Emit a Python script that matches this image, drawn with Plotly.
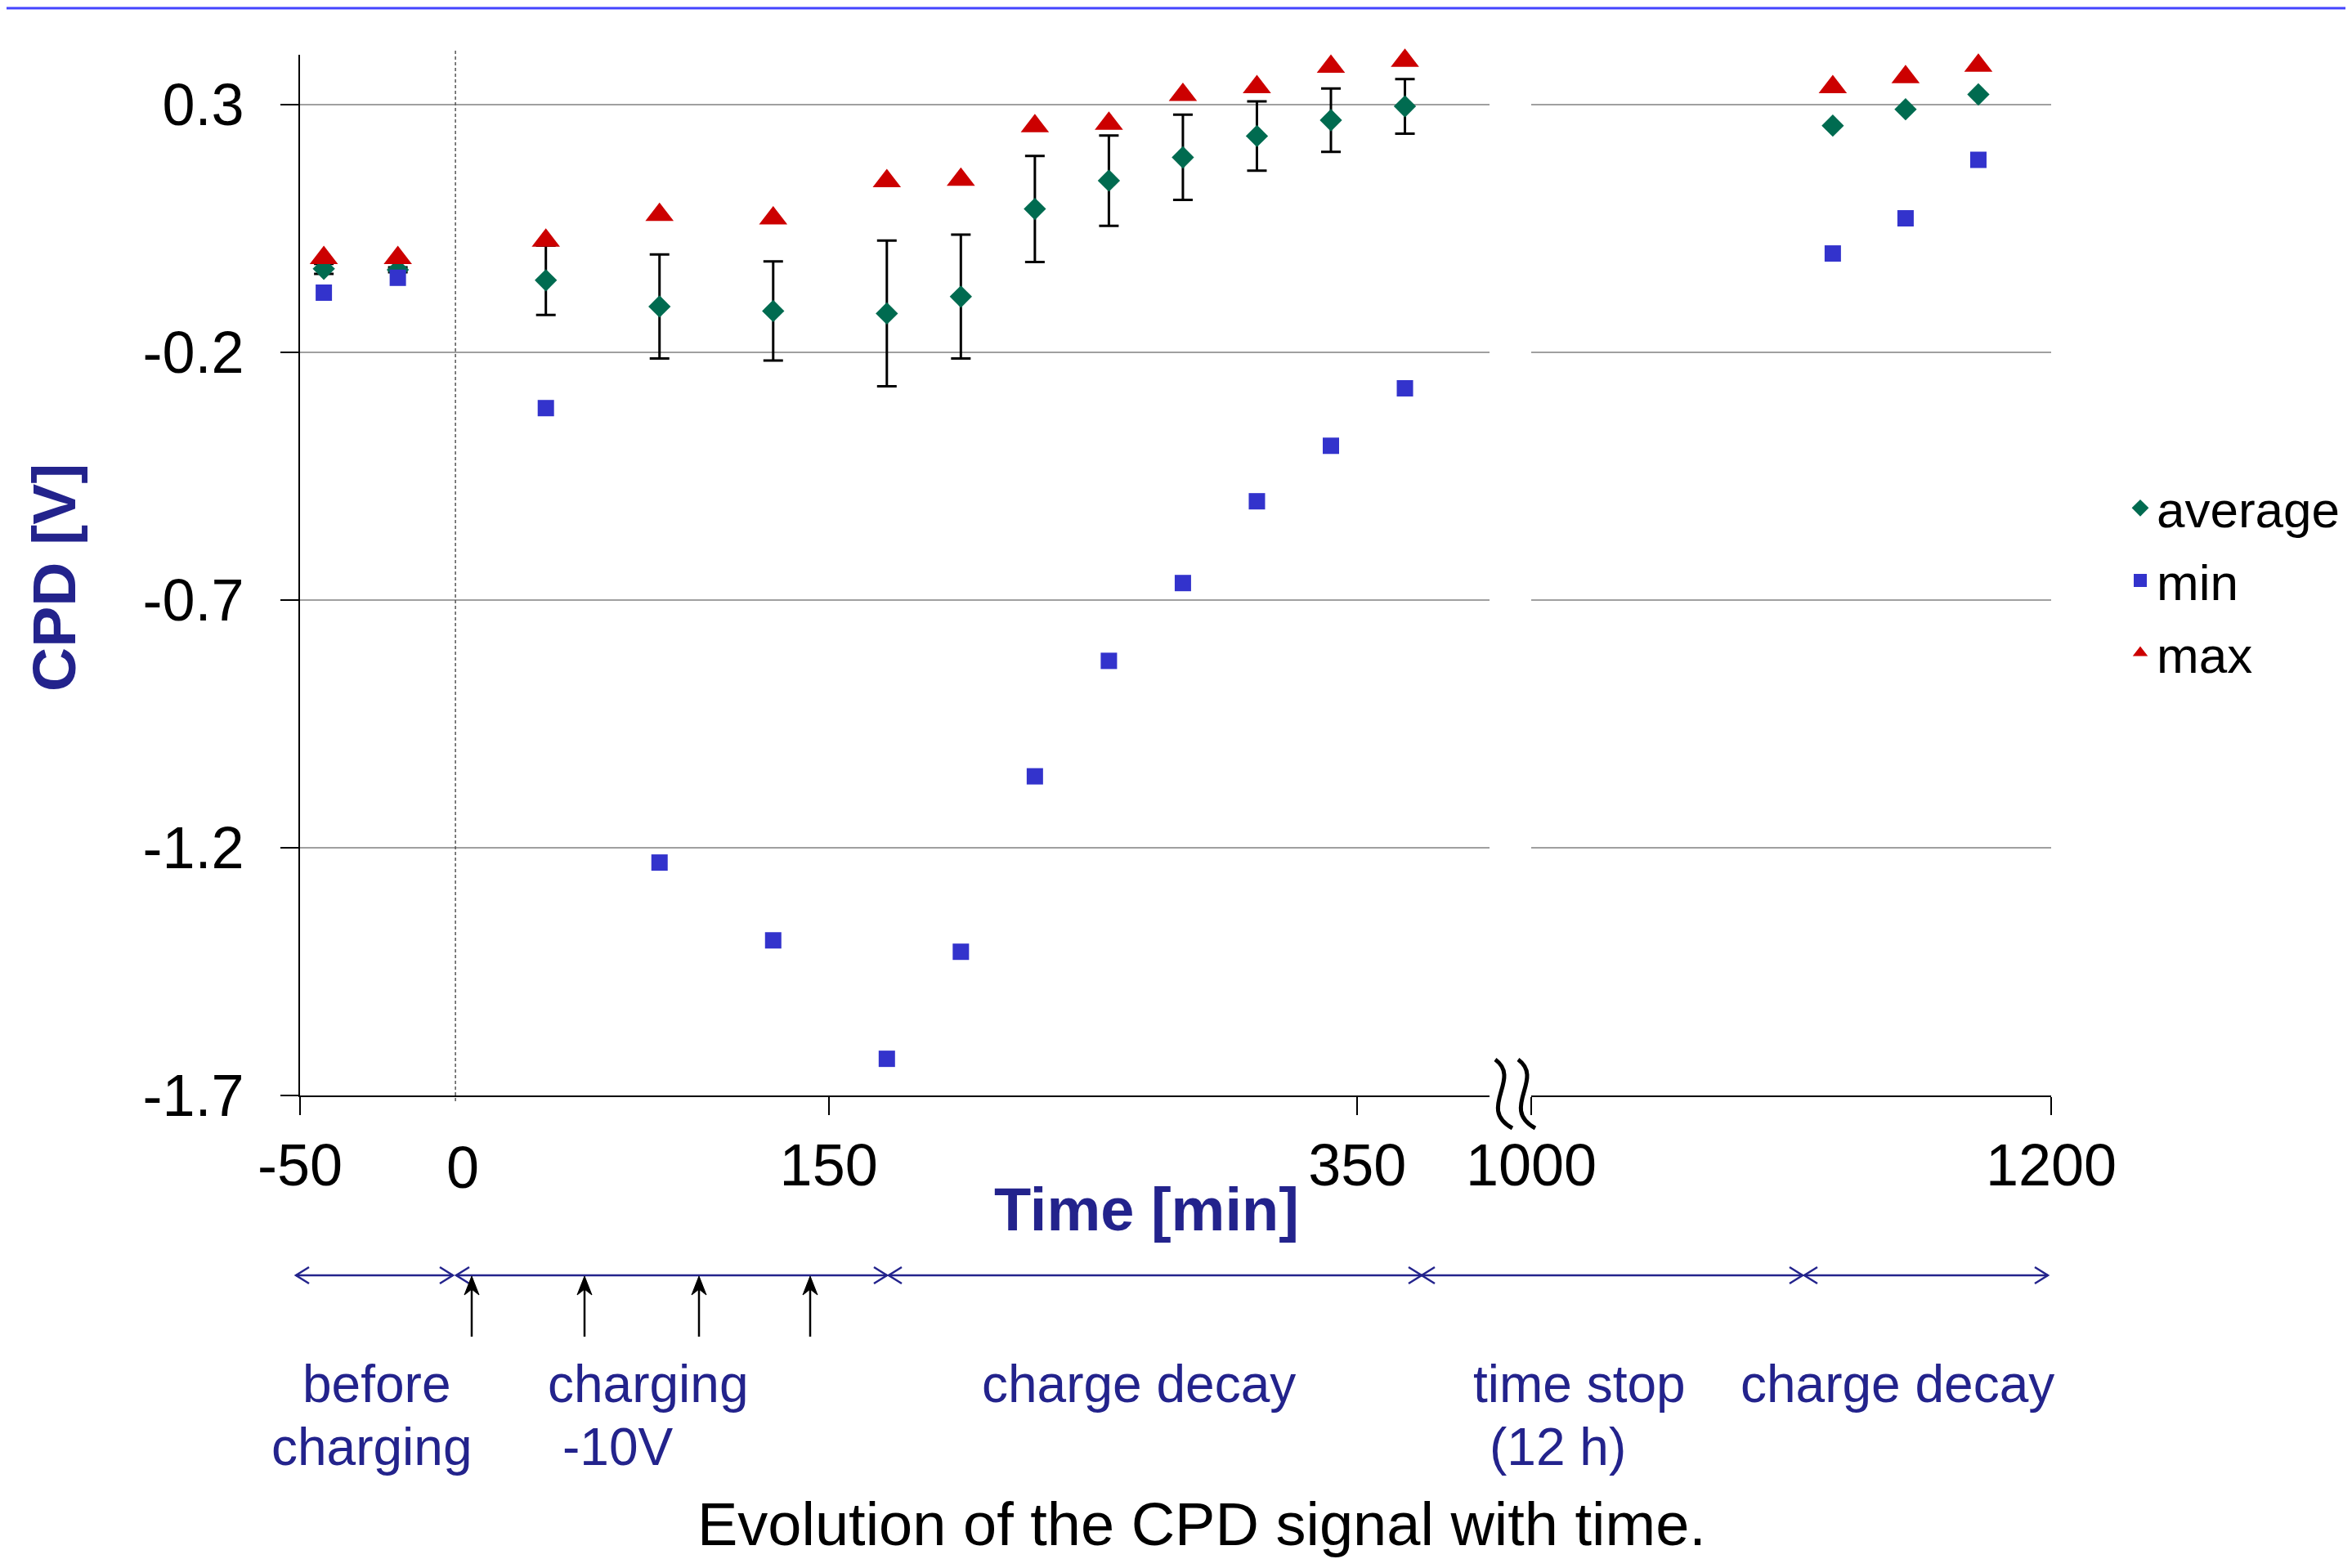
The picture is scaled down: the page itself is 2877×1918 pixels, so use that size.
import plotly.graph_objects as go

# ---------------- data ----------------
time_left = [-41, -13, 43, 86, 129, 172, 200, 228, 256, 284, 312, 340, 368]
avg_left = [-0.032, -0.034, -0.055, -0.108, -0.117, -0.122, -0.088, 0.089, 0.146, 0.193, 0.236, 0.268, 0.296]
err_left = [0.01, 0.005, 0.07, 0.105, 0.10, 0.147, 0.125, 0.107, 0.091, 0.086, 0.07, 0.064, 0.055]
min_left = [-0.08, -0.05, -0.313, -1.23, -1.387, -1.626, -1.41, -1.056, -0.823, -0.666, -0.501, -0.389, -0.273]
max_left = [-0.01, -0.01, 0.025, 0.077, 0.07, 0.145, 0.148, 0.256, 0.261, 0.319, 0.335, 0.376, 0.388]

time_right = [1116, 1144, 1172]
avg_right = [0.257, 0.29, 0.32]
min_right = [-0.001, 0.07, 0.188]
max_right = [0.335, 0.355, 0.378]

y_ticks = [0.3, -0.2, -0.7, -1.2, -1.7]
y_ticktext = ["0.3", "-0.2", "-0.7", "-1.2", "-1.7"]
x_ticks_left = [-50, 150, 350]
x_ticktext_left = ["-50", "150", "350"]
x_ticks_right = [1000, 1200]
x_ticktext_right = ["1000", "1200"]
series_names = ["average", "min", "max"]

# ---------------- geometry / styles ----------------
FONT = "Liberation Sans, Arial, sans-serif"
NAVY = "#23238C"
W, H = 2861, 1902          # page has an 8px body margin
OFF = 8
PL, PR, PT, PB = 367, 2509, 67, 1340   # plot area in page pixels
CHARGE_LINE_X = 8.8        # dashed line marking start of charging


def px(X):
    return (X - PL) / (PR - PL)


def py(Y):
    return 1 - (Y - PT) / (PB - PT)


avg_style = dict(symbol="diamond", size=21, color="#006B50")
min_style = dict(symbol="square", size=20, color="#3333CC")
max_style = dict(symbol="triangle-up", size=30, color="#CC0000")

fig = go.Figure()
fig.add_trace(go.Scatter(
    x=time_left, y=avg_left, mode="markers", name=series_names[0], legendgroup="average",
    marker=avg_style, cliponaxis=False,
    error_y=dict(type="data", array=err_left, color="black", thickness=3, width=12),
    xaxis="x", yaxis="y"))
fig.add_trace(go.Scatter(
    x=time_left, y=min_left, mode="markers", name=series_names[1], legendgroup="min",
    marker=min_style, cliponaxis=False, xaxis="x", yaxis="y"))
fig.add_trace(go.Scatter(
    x=time_left, y=max_left, mode="markers", name=series_names[2], legendgroup="max",
    marker=max_style, cliponaxis=False, xaxis="x", yaxis="y"))
fig.add_trace(go.Scatter(
    x=time_right, y=avg_right, mode="markers", name=series_names[0], legendgroup="average",
    marker=avg_style, cliponaxis=False, showlegend=False, xaxis="x2", yaxis="y"))
fig.add_trace(go.Scatter(
    x=time_right, y=min_right, mode="markers", name=series_names[1], legendgroup="min",
    marker=min_style, cliponaxis=False, showlegend=False, xaxis="x2", yaxis="y"))
fig.add_trace(go.Scatter(
    x=time_right, y=max_right, mode="markers", name=series_names[2], legendgroup="max",
    marker=max_style, cliponaxis=False, showlegend=False, xaxis="x2", yaxis="y"))

axis_common = dict(
    ticks="outside", ticklen=22, tickwidth=2, tickcolor="black",
    showline=True, linecolor="black", linewidth=2, zeroline=False,
    tickfont=dict(family=FONT, size=72, color="black"),
)

fig.update_layout(
    width=W, height=H, autosize=False,
    margin=dict(l=PL - OFF, r=OFF + W - PR, t=PT - OFF, b=OFF + H - PB, pad=0, autoexpand=False),
    paper_bgcolor="white", plot_bgcolor="white",
    font=dict(family=FONT, size=72, color="black"),
    showlegend=True,
    legend=dict(x=px(2598), xanchor="left", y=py(710), yanchor="middle",
                font=dict(family=FONT, size=62, color="black"),
                bgcolor="rgba(0,0,0,0)", tracegroupgap=5, itemsizing="trace"),
    xaxis=dict(domain=[0, px(1822)], range=[-50, 400], tickvals=x_ticks_left,
               ticktext=x_ticktext_left, showgrid=False, anchor="y",
               ticklabelstandoff=0, **axis_common),
    xaxis2=dict(domain=[px(1873), 1], range=[1000, 1200], tickvals=x_ticks_right,
                ticktext=x_ticktext_right, showgrid=False, anchor="y",
                ticklabelstandoff=0, **axis_common),
    yaxis=dict(domain=[0, 1], range=[-1.7, 0.4], tickvals=y_ticks, ticktext=y_ticktext,
               showgrid=True, gridcolor="#A0A0A0", gridwidth=2, anchor="x",
               ticklabelstandoff=30, **axis_common),
)

shapes = []
# top blue rule
shapes.append(dict(type="line", xref="paper", yref="paper", x0=px(OFF), x1=px(OFF + W),
                   y0=py(10), y1=py(10), line=dict(color="#4444FF", width=3)))
# dashed line at start of charging
shapes.append(dict(type="line", xref="x", yref="paper", x0=CHARGE_LINE_X, x1=CHARGE_LINE_X,
                   y0=py(1347), y1=py(62), line=dict(color="#555555", width=1.5, dash="4px,3px")))
# axis break marks
for dx in (0, 28):
    path = (f"M{px(1829 + dx)},{py(1296)} C{px(1862 + dx)},{py(1320)} "
            f"{px(1806 + dx)},{py(1356)} {px(1850 + dx)},{py(1380)}")
    shapes.append(dict(type="path", xref="paper", yref="paper", path=path,
                       line=dict(color="black", width=5)))

# phase arrows below the axis
ARROW_Y = 1560
for x0, x1 in [(362, 554), (558, 1085), (1087, 1739), (1739, 2205), (2207, 2505)]:
    shapes.append(dict(type="line", xref="paper", yref="paper", x0=px(x0), x1=px(x1),
                       y0=py(ARROW_Y), y1=py(ARROW_Y), line=dict(color=NAVY, width=2.5)))
    left = f"M{px(x0 + 16)},{py(ARROW_Y - 10)} L{px(x0)},{py(ARROW_Y)} L{px(x0 + 16)},{py(ARROW_Y + 10)}"
    right = f"M{px(x1 - 16)},{py(ARROW_Y - 10)} L{px(x1)},{py(ARROW_Y)} L{px(x1 - 16)},{py(ARROW_Y + 10)}"
    for p in (left, right):
        shapes.append(dict(type="path", xref="paper", yref="paper", path=p,
                           line=dict(color=NAVY, width=2.5)))

# charging pulses (upward arrows)
for xa in (577, 715, 855, 991):
    shapes.append(dict(type="line", xref="paper", yref="paper", x0=px(xa), x1=px(xa),
                       y0=py(1635), y1=py(1575), line=dict(color="black", width=2.5)))
    head = (f"M{px(xa)},{py(1561)} L{px(xa - 9)},{py(1584)} L{px(xa)},{py(1577)} "
            f"L{px(xa + 9)},{py(1584)} Z")
    shapes.append(dict(type="path", xref="paper", yref="paper", path=head,
                       fillcolor="black", line=dict(color="black", width=1)))

fig.update_layout(shapes=shapes)


def centre(baseline, size):
    return baseline - 0.3465 * size


annotations = []
# extra "0" tick label
annotations.append(dict(text="0", xref="paper", yref="paper", x=px(566), y=py(1428),
                        showarrow=False, xanchor="center", yanchor="middle",
                        font=dict(family=FONT, size=72, color="black")))
# axis titles
annotations.append(dict(text="<b>Time [min]</b>", xref="paper", yref="paper", x=px(1402),
                        y=py(1479), showarrow=False, xanchor="center", yanchor="middle",
                        font=dict(family=FONT, size=74, color=NAVY)))
annotations.append(dict(text="<b>CPD [V]</b>", xref="paper", yref="paper", x=px(66),
                        y=py(707), showarrow=False, xanchor="center", yanchor="middle",
                        textangle=-90, font=dict(family=FONT, size=75, color=NAVY)))
# phase labels
L1, L2 = 1715, 1792
for text, xc, base in [("before", 460, L1), ("charging", 455, L2),
                       ("charging", 793, L1), ("-10V", 756, L2),
                       ("charge decay", 1393, L1),
                       ("time stop", 1932, L1), ("(12 h)", 1905, L2),
                       ("charge decay", 2321, L1)]:
    annotations.append(dict(text=text, xref="paper", yref="paper", x=px(xc),
                            y=py(centre(base, 64)), showarrow=False, xanchor="center",
                            yanchor="middle", font=dict(family=FONT, size=64, color=NAVY)))
# caption
annotations.append(dict(text="Evolution of the CPD signal with time.", xref="paper", yref="paper",
                        x=px(1470), y=py(centre(1890, 74)), showarrow=False, xanchor="center",
                        yanchor="middle", font=dict(family=FONT, size=74, color="black")))
fig.update_layout(annotations=annotations)

fig.write_html("out.html")
